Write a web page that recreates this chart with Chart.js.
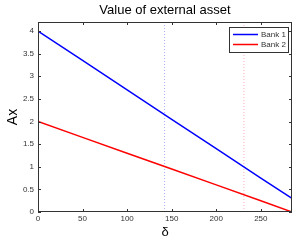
<!DOCTYPE html>
<html>
<head>
<meta charset="utf-8">
<script src="https://cdn.jsdelivr.net/npm/chart.js@4/dist/chart.umd.min.js"></script>
<style>
  html, body { margin: 0; padding: 0; background: #fff; }
  #wrap { width: 296px; height: 240px; }
</style>
</head>
<body>
<div id="wrap"><canvas id="assetChart"></canvas></div>
<script>
// values
const deltaValues = [0, 50, 100, 150, 200, 250, 285]
const bank1Values = [4, 3.35, 2.7, 2.05, 1.4, 0.75, 0.3]
const bank2Values = [2, 1.65, 1.3, 0.95, 0.6, 0.25, 0]
const seriesLabels = ["Bank 1", "Bank 2"]
const markerDeltas = [142, 231]   // dotted vertical lines
const xTicks = [0, 50, 100, 150, 200, 250]
const yTicks = [0, 0.5, 1, 1.5, 2, 2.5, 3, 3.5, 4]

const FONT = "'Liberation Sans', Arial, sans-serif"

const toPoints = (xs, ys) => xs.map((x, i) => ({ x: x, y: ys[i] }))

/**
 * Draws the matlab-like box, inward ticks and legend
 */
const boxPlugin = {
    id: "box",
    afterDatasetsDraw(chart) {
        const ctx = chart.ctx
        const a = chart.chartArea
        const xs = chart.scales.x
        const ys = chart.scales.y
        ctx.save()
        ctx.strokeStyle = "#333"
        ctx.lineWidth = 1
        ctx.strokeRect(a.left + 0.5, a.top + 0.5, a.right - a.left - 1, a.bottom - a.top - 1)
        ctx.beginPath()
        xTicks.forEach(v => {
            const px = Math.round(xs.getPixelForValue(v)) + 0.5
            ctx.moveTo(px, a.bottom); ctx.lineTo(px, a.bottom - 3)
            ctx.moveTo(px, a.top); ctx.lineTo(px, a.top + 3)
        })
        yTicks.forEach(v => {
            const py = Math.round(ys.getPixelForValue(v)) + 0.5
            ctx.moveTo(a.left, py); ctx.lineTo(a.left + 3, py)
            ctx.moveTo(a.right, py); ctx.lineTo(a.right - 3, py)
        })
        ctx.stroke()

        // legend
        const lx = 229, ly = 27, lw = 59, lh = 25
        ctx.fillStyle = "#fff"
        ctx.fillRect(lx, ly, lw, lh)
        ctx.strokeStyle = "#333"
        ctx.strokeRect(lx + 0.5, ly + 0.5, lw, lh)
        ctx.font = "8px " + FONT
        ctx.textBaseline = "middle"
        seriesLabels.forEach((label, i) => {
            const yy = ly + 7.5 + i * 10
            ctx.strokeStyle = chart.data.datasets[i].borderColor
            ctx.lineWidth = 1.5
            ctx.beginPath()
            ctx.moveTo(lx + 4, yy); ctx.lineTo(lx + 29, yy)
            ctx.stroke()
            ctx.fillStyle = "#333"
            ctx.fillText(label, lx + 32, yy)
        })
        ctx.restore()
    }
}

const markerSets = markerDeltas.map((d, i) => ({
    data: [{ x: d, y: 0 }, { x: d, y: 4.2 }],
    borderColor: i === 0 ? "#aab0ff" : "#ffb0c0",
    borderWidth: 1,
    borderDash: [1, 2],
    pointRadius: 0,
    order: 5
}))

new Chart(document.getElementById("assetChart"), {
    type: "line",
    data: {
        datasets: [
            { label: seriesLabels[0], data: toPoints(deltaValues, bank1Values), borderColor: "#0000ff", borderWidth: 1.5, pointRadius: 0, order: 1 },
            { label: seriesLabels[1], data: toPoints(deltaValues, bank2Values), borderColor: "#ff0000", borderWidth: 1.5, pointRadius: 0, order: 2 },
            ...markerSets
        ]
    },
    options: {
        responsive: true,
        maintainAspectRatio: false,
        animation: false,
        layout: { padding: { left: 0, right: 4, top: 0, bottom: 0 } },
        plugins: {
            legend: { display: false },
            tooltip: { enabled: false },
            title: {
                display: true,
                fullSize: false,
                text: "Value of external asset",
                color: "#000",
                font: { family: FONT, size: 13, weight: "normal", lineHeight: 1.2 },
                padding: { top: 3, bottom: 3.4 }
            }
        },
        scales: {
            x: {
                type: "linear",
                min: 0,
                max: 285,
                afterBuildTicks: s => { s.ticks = xTicks.map(v => ({ value: v })) },
                afterFit: s => { s.height = 28 },
                grid: { display: false, drawTicks: false },
                border: { display: false },
                ticks: { color: "#333", font: { family: FONT, size: 8 }, padding: 2, maxRotation: 0, callback: v => String(v) },
                title: { display: true, text: "δ", color: "#000", font: { family: FONT, size: 13 }, padding: 0 }
            },
            y: {
                type: "linear",
                min: 0,
                max: 4.2,
                afterBuildTicks: s => { s.ticks = yTicks.map(v => ({ value: v })) },
                afterFit: s => { s.width = 38 },
                grid: { display: false, drawTicks: false },
                border: { display: false },
                ticks: { color: "#333", font: { family: FONT, size: 8 }, padding: 4, callback: v => String(v) },
                title: { display: true, text: "Ax", color: "#000", font: { family: FONT, size: 14 }, padding: { top: 5, bottom: 0 } }
            }
        }
    },
    plugins: [boxPlugin]
})
</script>
</body>
</html>
